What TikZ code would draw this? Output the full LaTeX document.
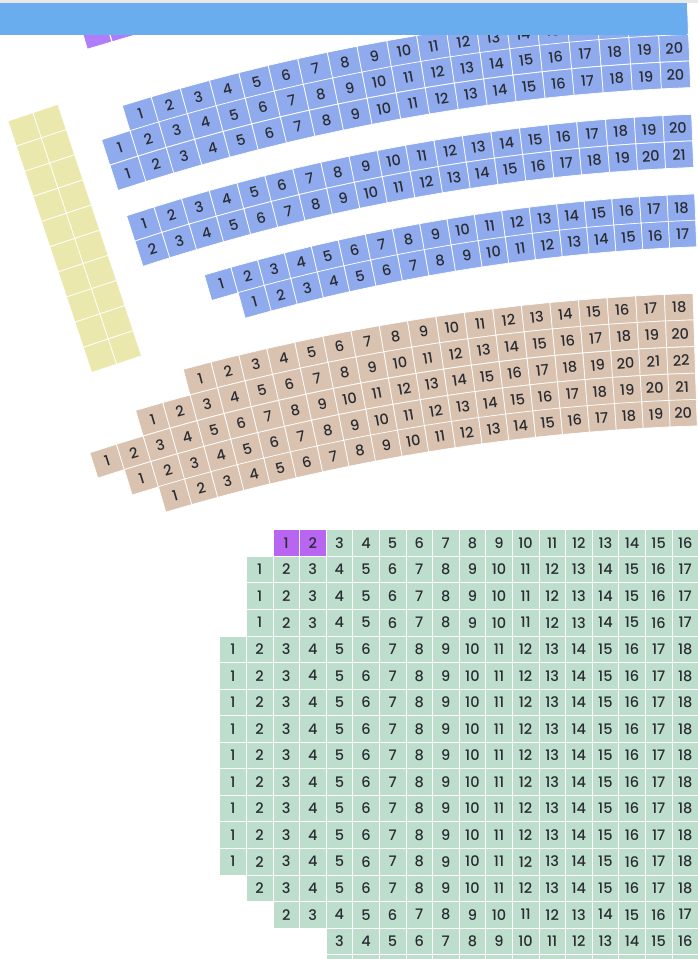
\documentclass[tikz,border=0pt]{standalone}
\usepackage{fontspec}
\setmainfont{Poppins Medium}
\definecolor{stripgray}{HTML}{E8E8E8}
\definecolor{barblue}{HTML}{69ADEF}
\definecolor{seatblue}{HTML}{8FABEE}
\definecolor{seattan}{HTML}{D9C3B0}
\definecolor{seatgreen}{HTML}{BDDDCD}
\definecolor{seatyellow}{HTML}{EBE8AE}
\definecolor{seatviolet}{HTML}{B866F2}
\definecolor{seatlilac}{HTML}{B07DFA}
\definecolor{seatnum}{HTML}{2A2C32}

% one curved row: style, name, radius, first and last place on the arc, first number
\newcommand{\seatrow}[6]{
\pgfmathsetmacro{\tilew}{#3*\arcstep*pi/180}
\foreach \n in {#4,...,#5} {
\pgfmathsetmacro{\ang}{\arcstart-\arcstep*\n}
\pgfmathtruncatemacro{\lab}{\n-#4+#6}
\node[#1, rotate=\ang, minimum width=\tilew pt] (#2-\lab)
at ({\arccx-#3*sin(\ang)},{-\arccy+#3*cos(\ang)}) {\lab};
}
}

\begin{document}
\begin{tikzpicture}[
x=1pt, y=1pt,
seat/.style={
draw=white,
line width=0.7pt,
rectangle,
inner sep=0pt,
minimum width=26.6pt,
minimum height=26.55pt,
text=seatnum,
font=\fontsize{14.5}{14.5}\selectfont
},
blueseat/.style={seat, fill=seatblue},
tanseat/.style={seat, fill=seattan},
greenseat/.style={seat, fill=seatgreen},
yellowseat/.style={seat, fill=seatyellow, minimum width=26.3pt, minimum height=26.5pt},
violetseat/.style={seat, fill=seatviolet},
lilacseat/.style={seat, fill=seatlilac, minimum width=25.5pt, minimum height=26.5pt}
]
\useasboundingbox (0,0) rectangle (698,-959);
\clip (0,0) rectangle (698,-959);

% lilac seats under the bar
\node[lilacseat, rotate=16.5] (lilac1) at (95.8,-32.8) {};
\node[lilacseat, rotate=16.5] (lilac2) at (120.7,-25.4) {};

% blue blocks
\def\arccx{770}
\def\arccy{2173}
\def\arcstart{17.8}
\def\arcstep{0.801}
\seatrow{blueseat}{aa}{2153.2}{1}{19}{1}
\seatrow{blueseat}{ab}{2127}{0}{19}{1}
\seatrow{blueseat}{ac}{2100.3}{0}{19}{1}
\seatrow{blueseat}{ba}{2047}{0}{19}{1}
\seatrow{blueseat}{bb}{2020.4}{0}{19}{2}
\seatrow{blueseat}{ca}{1967.3}{2}{19}{1}
\seatrow{blueseat}{cb}{1941}{3}{19}{1}

% tan block
\def\arccx{763}
\def\arccy{2511.5}
\def\arcstart{17.74}
\def\arcstep{0.741}
\seatrow{tanseat}{ta}{2206}{4}{21}{1}
\seatrow{tanseat}{tb}{2179.5}{2}{21}{1}
\seatrow{tanseat}{tc}{2152.8}{0}{21}{1}
\seatrow{tanseat}{td}{2126.2}{1}{21}{1}
\seatrow{tanseat}{te}{2100}{2}{21}{1}

% yellow block
\begin{scope}[shift={(8,-121)}, rotate=18.4, transform shape]
\foreach \i in {0,1} {
\foreach \j in {0,...,9} {
\node[yellowseat] (yel-\i-\j) at ({26.3*(\i+0.5)},{-26.5*(\j+0.5)}) {};
}
}
\end{scope}

% green block, row / first column / first number
\foreach \rw/\kfirst/\labfirst in {
1/1/1, 2/1/1, 3/1/1,
4/0/1, 5/0/1, 6/0/1, 7/0/1, 8/0/1, 9/0/1, 10/0/1, 11/0/1, 12/0/1,
13/1/2, 14/2/2, 15/4/3} {
\foreach \k in {\kfirst,...,17} {
\pgfmathtruncatemacro{\lab}{\k-\kfirst+\labfirst}
\node[greenseat] (g\rw-\k) at ({233+26.6*\k},{-543-26.55*\rw}) {\lab};
}
}
\node[violetseat] (v1) at ({233+26.6*2},-543) {1};
\node[violetseat] (v2) at ({233+26.6*3},-543) {2};
\foreach \k in {4,...,17} {
\pgfmathtruncatemacro{\lab}{\k-1}
\node[greenseat] (g0-\k) at ({233+26.6*\k},-543) {\lab};
\node[greenseat] (g16-\k) at ({233+26.6*\k},{-543-26.55*16}) {};
}

% top bar
\fill[stripgray] (0,0) rectangle (698,-3);
\fill[barblue] (0,-3) rectangle (687,-35);

\end{tikzpicture}
\end{document}
